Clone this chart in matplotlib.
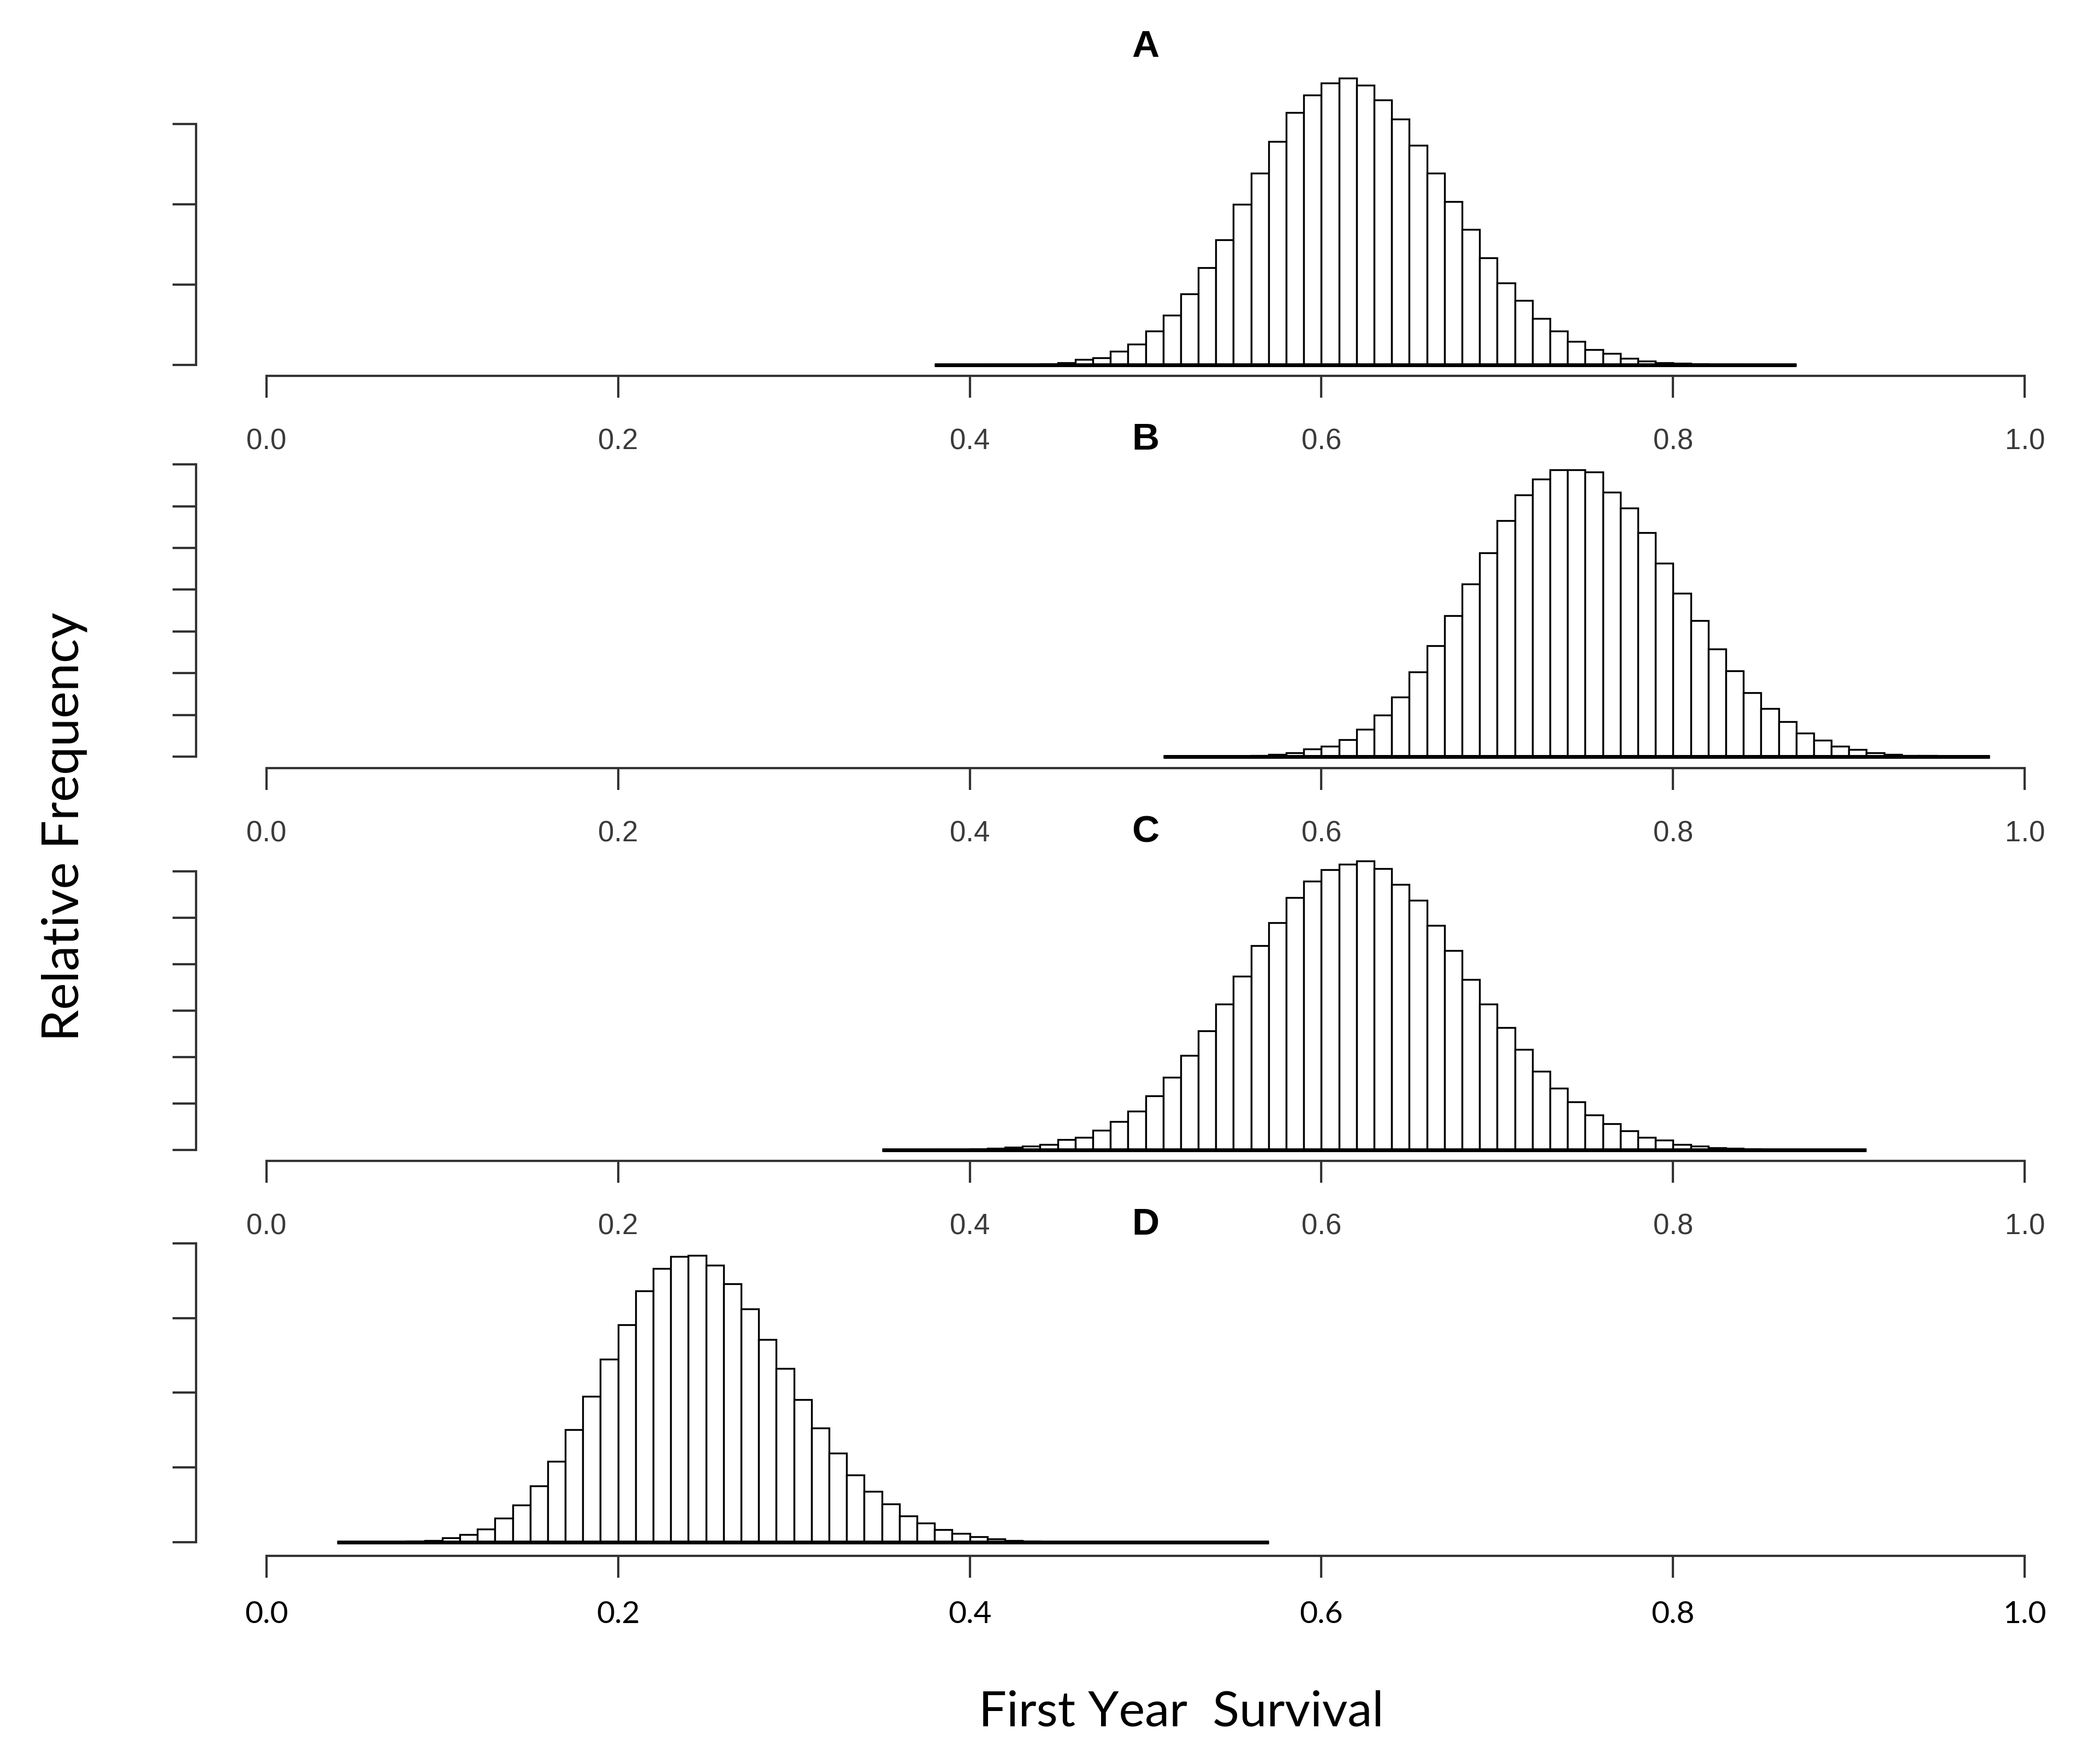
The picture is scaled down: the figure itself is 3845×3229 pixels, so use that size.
import numpy as np
import matplotlib
matplotlib.use("Agg")
import matplotlib.pyplot as plt

# bin width of the posterior histograms
bin_width = 0.01

# panel A
a_start = 0.38
a_density = [0.003, 0.004, 0.006, 0.008, 0.012, 0.02, 0.03, 0.05, 0.13, 0.18,
             0.34, 0.52, 0.85, 1.24, 1.77, 2.42, 3.12, 4.00, 4.77, 5.56,
             6.28, 6.72, 7.02, 7.14, 6.96, 6.60, 6.12, 5.47, 4.77, 4.07,
             3.38, 2.66, 2.04, 1.61, 1.16, 0.85, 0.59, 0.38, 0.28, 0.17,
             0.10, 0.06, 0.04, 0.025, 0.015, 0.01, 0.006, 0.004, 0.003]
a_yticks = [0, 2, 4, 6]

# panel B
b_start = 0.51
b_density = [0.002, 0.003, 0.005, 0.01, 0.015, 0.025, 0.05, 0.09, 0.18, 0.25,
             0.41, 0.66, 0.99, 1.43, 2.03, 2.66, 3.38, 4.13, 4.88, 5.65,
             6.27, 6.65, 6.87, 6.87, 6.82, 6.34, 5.96, 5.36, 4.64, 3.91,
             3.26, 2.58, 2.05, 1.53, 1.15, 0.84, 0.56, 0.39, 0.25, 0.17,
             0.09, 0.05, 0.03, 0.02, 0.01, 0.005, 0.003]
b_yticks = [0, 1, 2, 3, 4, 5, 6, 7]

# panel C
c_start = 0.35
c_density = [0.002, 0.003, 0.004, 0.006, 0.01, 0.02, 0.035, 0.055, 0.08, 0.12,
             0.22, 0.27, 0.42, 0.61, 0.84, 1.16, 1.56, 2.04, 2.57, 3.14,
             3.74, 4.40, 4.90, 5.44, 5.79, 6.04, 6.15, 6.22, 6.06, 5.72,
             5.38, 4.84, 4.30, 3.67, 3.14, 2.64, 2.16, 1.69, 1.33, 1.03,
             0.75, 0.56, 0.41, 0.27, 0.21, 0.12, 0.08, 0.05, 0.035, 0.02,
             0.012, 0.008, 0.005, 0.004, 0.003, 0.002]
c_yticks = [0, 1, 2, 3, 4, 5, 6]

# panel D
d_start = 0.04
d_density = [0.003, 0.005, 0.01, 0.02, 0.03, 0.05, 0.11, 0.21, 0.35, 0.64,
             1.00, 1.51, 2.16, 3.01, 3.90, 4.90, 5.82, 6.72, 7.32, 7.65,
             7.68, 7.41, 6.92, 6.25, 5.43, 4.65, 3.81, 3.06, 2.39, 1.80,
             1.36, 1.03, 0.70, 0.51, 0.34, 0.24, 0.15, 0.09, 0.05, 0.03,
             0.02, 0.012, 0.008, 0.005, 0.004, 0.003, 0.002, 0.002, 0.001, 0.001,
             0.001, 0.001, 0.001]
d_yticks = [0, 2, 4, 6, 8]

panel_names = ["A", "B", "C", "D"]
x_ticks = [0.0, 0.2, 0.4, 0.6, 0.8, 1.0]
x_ticklabels = ["0.0", "0.2", "0.4", "0.6", "0.8", "1.0"]

W, H = 3845, 3229
fig = plt.figure(figsize=(W / 100, H / 100), dpi=100)
fig.patch.set_facecolor("white")

# layout in pixels: x-axis line, zero line, pixels per unit, ylim top, title y
layout = [
    dict(axis=688, zero=668, ppu=73.5, ytop=7.6, title=86),
    dict(axis=1406, zero=1385, ppu=76.4, ytop=7.2, title=805),
    dict(axis=2125, zero=2105, ppu=85.0, ytop=6.6, title=1523),
    dict(axis=2848, zero=2823, ppu=68.4, ytop=8.2, title=2242),
]
px_left, px_right = 359, 3836

panels = [(a_start, a_density, a_yticks), (b_start, b_density, b_yticks),
          (c_start, c_density, c_yticks), (d_start, d_density, d_yticks)]

for i, ((start, dens, yt), lay, name) in enumerate(zip(panels, layout, panel_names)):
    ybot = -(lay["axis"] - lay["zero"]) / lay["ppu"]
    height_px = (lay["ytop"] - ybot) * lay["ppu"]
    ax = fig.add_axes([px_left / W, 1 - lay["axis"] / H,
                       (px_right - px_left) / W, height_px / H])
    ax.patch.set_alpha(0)
    edges = start + bin_width * np.arange(len(dens))
    ax.bar(edges, dens, width=bin_width, align="edge", facecolor="white",
           edgecolor="black", linewidth=2.4)
    # heavy baseline under the bars, as in the original R plot
    ax.hlines(0, edges[0], edges[-1] + bin_width, color="black", linewidth=5)
    ax.set_xlim(-0.04, 1.04)
    ax.set_ylim(ybot, lay["ytop"])
    for s in ["top", "right"]:
        ax.spines[s].set_visible(False)
    ax.spines["left"].set_bounds(yt[0], yt[-1])
    ax.spines["bottom"].set_bounds(0, 1)
    for s in ["left", "bottom"]:
        ax.spines[s].set_linewidth(3)
        ax.spines[s].set_color("#333333")
    ax.set_yticks(yt)
    ax.set_yticklabels([])
    ax.tick_params(axis="y", direction="out", length=31, width=3, color="#333333")
    ax.set_xticks(x_ticks)
    if i < 3:
        ax.set_xticklabels(x_ticklabels, fontsize=38, color="#3a3a3a",
                           family="Liberation Sans")
        ax.tick_params(axis="x", direction="out", length=29, width=3,
                       color="#333333", pad=40)
    else:
        ax.set_xticklabels(x_ticklabels, fontsize=41, color="black", family="Lato")
        ax.tick_params(axis="x", direction="out", length=29, width=3,
                       color="#333333", pad=30)
    fig.text(2097 / W, 1 - lay["title"] / H, name, ha="center", va="center",
             fontsize=50, fontweight="bold", family="Liberation Sans")

fig.text(2163 / W, 1 - 3135 / H, "First Year  Survival", ha="center", va="center",
         fontsize=65, family="Lato")
fig.text(118 / W, 1 - 1513 / H, "Relative Frequency", ha="center", va="center",
         rotation=90, fontsize=67, family="Lato")

fig.savefig("out.png", dpi=100, facecolor="white")
